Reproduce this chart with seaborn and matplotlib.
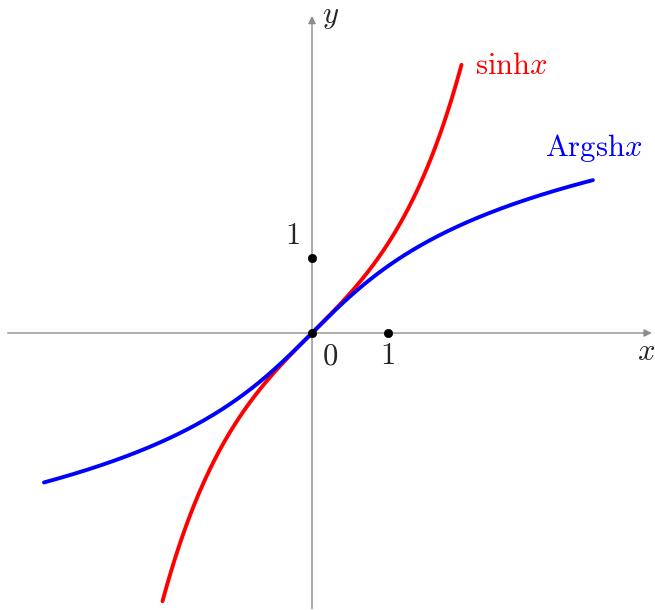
import numpy as np
import pandas as pd
import matplotlib
matplotlib.use("Agg")
import matplotlib.pyplot as plt
import seaborn as sns

sns.set_theme(style="white")
plt.rcParams["mathtext.fontset"] = "cm"
plt.rcParams["font.family"] = ["DejaVu Serif"]

# Domains of the two curves
sinh_domain = [-1.98, 1.98]
argsh_domain = [-3.55, 3.72]

# Marked points on the axes
point_x = [0, 1, 0]
point_y = [0, 0, 1]

# Axis extents
x_axis = [-4.03, 4.5]
y_axis = [-3.65, 4.2]

xs = np.linspace(sinh_domain[0], sinh_domain[1], 300)
xa = np.linspace(argsh_domain[0], argsh_domain[1], 300)
df_sinh = pd.DataFrame({"x": xs, "y": np.sinh(xs)})
df_argsh = pd.DataFrame({"x": xa, "y": np.arcsinh(xa)})

fig = plt.figure(figsize=(6.55, 6.10), dpi=100)
ax = fig.add_axes([0, 0, 1, 1])
scale = 75.5
ax.set_xlim(-312 / scale, (655 - 312) / scale)
ax.set_ylim(-(610 - 333) / scale, 333 / scale)
ax.axis("off")

axis_color = "#8c8c8c"
ax.annotate("", xy=(x_axis[1], 0), xytext=(x_axis[0], 0),
            arrowprops=dict(arrowstyle="-|>", color=axis_color, lw=1.0,
                            mutation_scale=11, shrinkA=0, shrinkB=0))
ax.annotate("", xy=(0, y_axis[1]), xytext=(0, y_axis[0]),
            arrowprops=dict(arrowstyle="-|>", color=axis_color, lw=1.0,
                            mutation_scale=11, shrinkA=0, shrinkB=0))

sns.lineplot(data=df_sinh, x="x", y="y", ax=ax, color="#ff0000", lw=2.8,
             sort=False, estimator=None)
sns.lineplot(data=df_argsh, x="x", y="y", ax=ax, color="#0000ff", lw=2.8,
             sort=False, estimator=None)

sns.scatterplot(x=point_x, y=point_y, ax=ax, color="black", s=36,
                edgecolor="black", zorder=5)

fs = 22
ax.text(0.24, 4.21, r"$y$", fontsize=fs, ha="center", va="center")
ax.text(4.43, -0.25, r"$x$", fontsize=fs, ha="center", va="center")
ax.text(2.16, 3.54, r"$\mathrm{sinh}x$", fontsize=fs, color="#ff0000",
        ha="left", va="center")
ax.text(3.086, 2.45, r"$\mathrm{Argsh}x$", fontsize=fs, color="#0000ff",
        ha="left", va="center")
ax.text(-0.265, 1.285, r"$1$", fontsize=fs, ha="center", va="center")
ax.text(0.238, -0.30, r"$0$", fontsize=fs, ha="center", va="center")
ax.text(1.0, -0.30, r"$1$", fontsize=fs, ha="center", va="center")

fig.savefig("out.png", dpi=100)
